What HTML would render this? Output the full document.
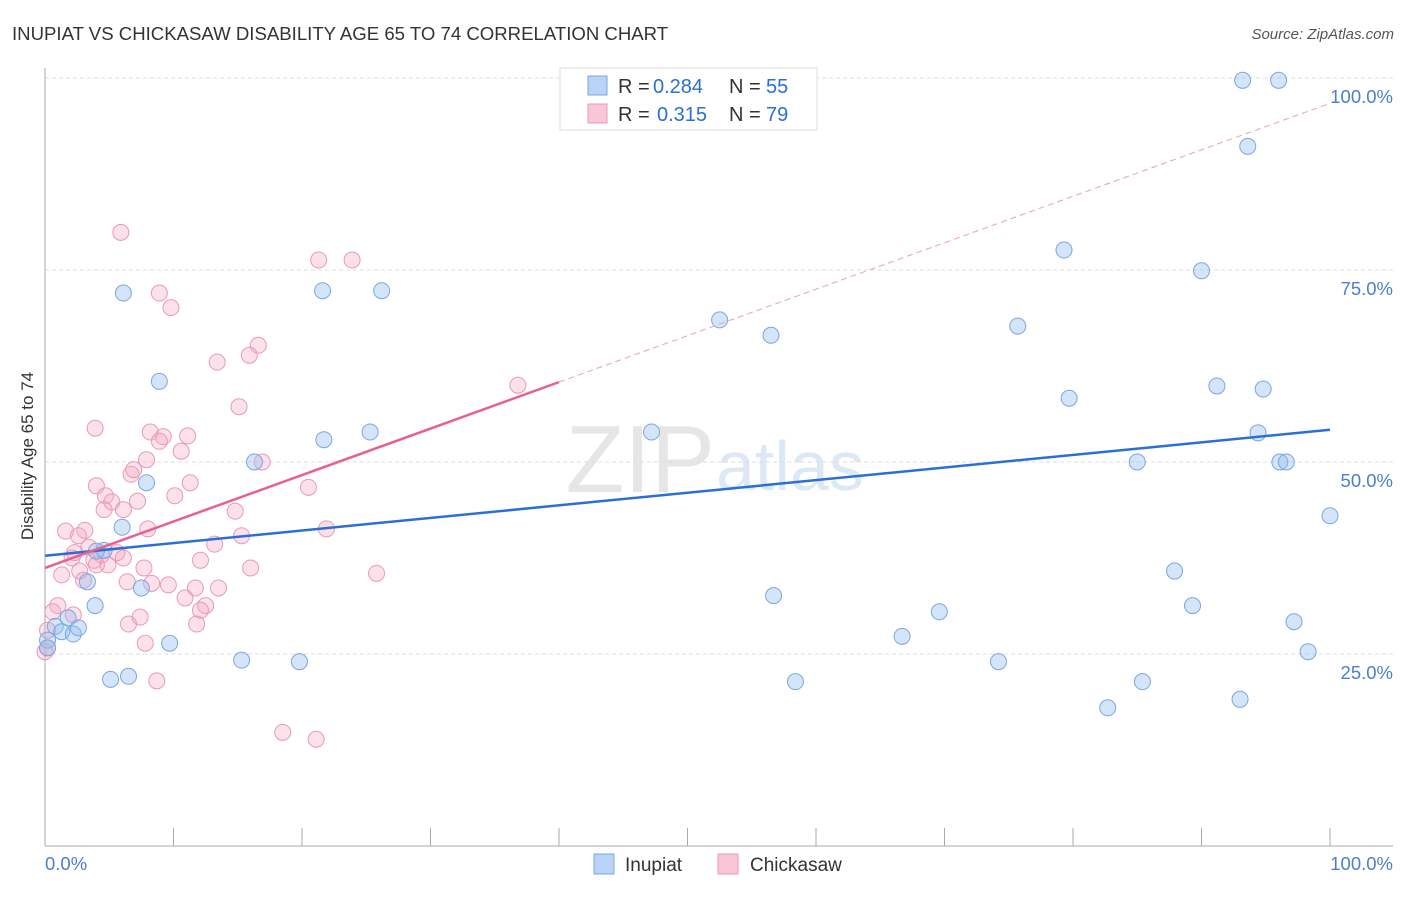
<!DOCTYPE html>
<html><head><meta charset="utf-8"><style>
body{margin:0;background:#fff;font-family:"Liberation Sans",sans-serif;}
svg text{font-family:"Liberation Sans",sans-serif;}
</style></head><body>
<svg id="c" width="1406" height="892" viewBox="0 0 1406 892">
<text x="12" y="40" font-size="18.6" fill="#333">INUPIAT VS CHICKASAW DISABILITY AGE 65 TO 74 CORRELATION CHART</text>
<text x="1394" y="39" font-size="15" fill="#555" font-style="italic" text-anchor="end">Source: ZipAtlas.com</text>
<text x="715" y="492" font-size="96" fill="#e6e6e6" font-family="Liberation Serif" text-anchor="end">ZIP</text>
<text x="716" y="490" font-size="70" fill="#dde8f5">atlas</text>
<g id="grid"></g><g id="pts"></g><g id="lines"></g>
<text transform="translate(33,456) rotate(-90)" font-size="17" fill="#333" text-anchor="middle">Disability Age 65 to 74</text>
<g>
<rect x="560" y="68" width="257" height="62" fill="#fff" stroke="#ddd"/>
<rect x="588" y="76" width="19" height="19" fill="#b8d3f5" stroke="#7aa6e0"/>
<rect x="588" y="104" width="19" height="19" fill="#f9c6d6" stroke="#e89ab5"/>
<text x="618" y="93" font-size="20" fill="#333">R =</text>
<text x="653" y="93" font-size="20" fill="#2a6fd6">0.284</text>
<text x="729" y="93" font-size="20" fill="#333">N =</text>
<text x="766" y="93" font-size="20" fill="#2a6fd6">55</text>
<text x="618" y="121" font-size="20" fill="#333">R =</text>
<text x="657" y="121" font-size="20" fill="#2a6fd6">0.315</text>
<text x="729" y="121" font-size="20" fill="#333">N =</text>
<text x="766" y="121" font-size="20" fill="#2a6fd6">79</text>
</g>
<g>
<rect x="594" y="854" width="20" height="20" fill="#b8d3f5" stroke="#7aa6e0"/>
<text x="625" y="871" font-size="19" fill="#333">Inupiat</text>
<rect x="718" y="854" width="20" height="20" fill="#f9c6d6" stroke="#e89ab5"/>
<text x="750" y="871" font-size="19" fill="#333">Chickasaw</text>
</g>
</svg>
<script>
const blueX=[50,93.2,96.0,93.6,79.3,90.0,52.5,56.5,75.7,91.2,94.8,79.7,94.4,85.0,96.1,96.6,100,87.9,89.3,97.2,98.3,93.0,85.4,82.7,74.2,69.6,66.7,58.4,56.7,47.2,25.3,21.7,21.6,26.2,6.1,8.9,16.3,7.9,6.0,4.6,4.0,3.3,3.9,7.5,1.8,0.8,1.3,2.2,2.6,0.2,9.7,5.1,6.5,15.3,19.8,0.2];
const blueY=[99.7,99.7,99.7,91.1,77.6,74.9,68.5,66.5,67.7,59.9,59.5,58.3,53.8,50.0,50.0,50.0,43.0,35.8,31.3,29.2,25.3,19.1,21.4,18.0,24.0,30.5,27.3,21.4,32.6,53.9,53.9,52.9,72.3,72.3,72.0,60.5,50.0,47.3,41.5,38.5,38.4,34.4,31.3,33.6,29.7,28.6,27.9,27.6,28.4,26.8,26.4,21.7,22.1,24.2,24.0,25.8];
const pinkX=[5.9,21.3,23.9,8.9,9.8,16.6,15.9,13.4,36.8,15.1,3.9,8.2,9.2,11.1,8.9,10.6,7.9,16.9,6.7,6.9,11.3,20.5,4.0,10.1,4.7,5.2,7.2,4.6,6.1,14.8,1.6,3.1,2.6,8.0,21.9,15.3,13.2,3.4,2.3,4.4,2.1,5.6,6.1,3.8,12.1,4.0,4.9,16.0,7.7,2.7,1.3,25.8,3.0,6.4,8.3,9.6,11.7,13.5,10.9,12.5,12.1,1.0,2.2,0.6,6.5,11.8,7.4,0.2,7.8,0.2,8.7,18.5,21.1,0];
const pinkY=[79.9,76.3,76.3,72.0,70.1,65.2,63.9,63.0,60.0,57.2,54.4,53.9,53.3,53.4,52.7,51.4,50.3,50.0,48.4,49.0,47.3,46.7,46.9,45.6,45.6,44.8,44.9,43.8,43.8,43.6,41.0,41.1,40.4,41.3,41.3,40.4,39.3,38.9,38.2,37.9,37.5,38.2,37.5,37.2,37.2,36.6,36.6,36.2,36.2,35.8,35.3,35.5,34.6,34.4,34.2,34.0,33.6,33.6,32.3,31.3,30.7,31.3,30.1,30.5,28.9,28.9,29.8,28.1,26.4,25.8,21.5,14.8,13.9,25.3];
const yTicks=[25,50,75,100];
const yTickLabels=["25.0%","50.0%","75.0%","100.0%"];
const blueTrend=[37.8,54.2];
const pinkTrend=[36.2,60.4,40];
const NS='http://www.w3.org/2000/svg';
const sx=v=>45+v*12.85, sy=v=>846-v*7.68;
function mk(t,a,p){const e=document.createElementNS(NS,t);for(const k in a)e.setAttribute(k,a[k]);p.appendChild(e);return e;}
const g=document.getElementById('grid');
yTicks.forEach((t,i)=>{
 const l=mk('line',{x1:45,x2:1393,y1:sy(t),y2:sy(t),stroke:'#ddd','stroke-dasharray':'4,3'},g);
 
 
 const tx=mk('text',{x:1393,y:sy(t)+25,'font-size':18.5,fill:'#4a7fd0','text-anchor':'end'},g);
 tx.textContent=yTickLabels[i];
 
 
});
mk('line',{x1:45,x2:45,y1:68,y2:846,stroke:'#aaa'},g);
mk('line',{x1:45,x2:1393,y1:846,y2:846,stroke:'#aaa'},g);
for(let i=0;i<=10;i++){const t=mk('line',{x1:sx(i*10),x2:sx(i*10),y1:828,y2:846,stroke:'#aaa'},g);
 
 }
const x0=mk('text',{x:45,y:870,'font-size':18.5,fill:'#4a7fd0'},g);x0.textContent='0.0%';


const x1=mk('text',{x:1393,y:870,'font-size':18.5,fill:'#4a7fd0','text-anchor':'end'},g);x1.textContent='100.0%';


const p=document.getElementById('pts');
pinkX.forEach((x,i)=>{const c=mk('circle',{cx:sx(x),cy:sy(pinkY[i]),r:8,fill:'rgba(245,170,195,0.35)',stroke:'#e89ab5','stroke-width':1},p);
 
 });
blueX.forEach((x,i)=>{const c=mk('circle',{cx:sx(x),cy:sy(blueY[i]),r:8,fill:'rgba(150,190,240,0.4)',stroke:'#7aa6e0','stroke-width':1},p);
 
 });
const L=document.getElementById('lines');
const bl=mk('line',{x1:sx(0),y1:sy(blueTrend[0]),x2:sx(100),y2:sy(blueTrend[1]),stroke:'#2a6fd6','stroke-width':2.5},L);


const slope=(pinkTrend[1]-pinkTrend[0])/pinkTrend[2];
const ps=mk('line',{x1:sx(0),y1:sy(pinkTrend[0]),x2:sx(pinkTrend[2]),y2:sy(pinkTrend[1]),stroke:'#e8608f','stroke-width':2.5},L);


const pd=mk('line',{x1:sx(pinkTrend[2]),y1:sy(pinkTrend[1]),x2:sx(100),y2:sy(pinkTrend[0]+slope*100),stroke:'#e8a0b8','stroke-width':1,'stroke-dasharray':'6,4'},L);


</script>
</body></html>
